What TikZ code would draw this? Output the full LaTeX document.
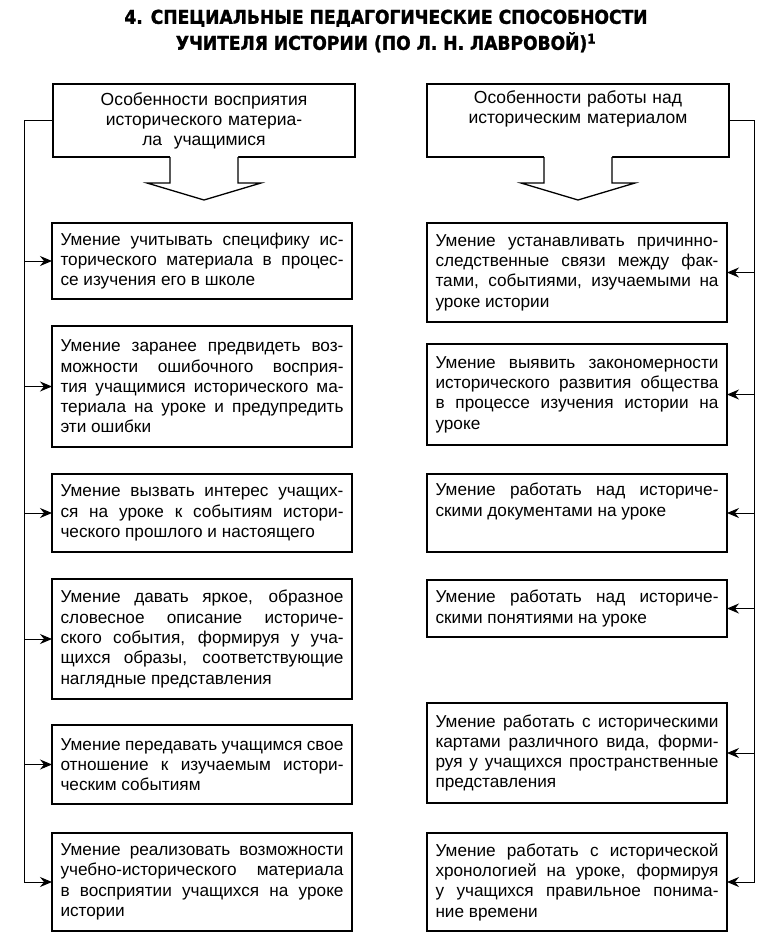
\documentclass[tikz,border=0pt]{standalone}
\usepackage{fontspec}
\setmainfont{Liberation Sans}
\newfontfamily\titlefont[FakeStretch=0.9, BoldFeatures={FakeBold=1.5}]{DejaVu Sans}
\usetikzlibrary{calc}
\usetikzlibrary{arrows.meta}

\tikzset{
  item/.style={draw, line width=1.1pt, outer sep=0pt, anchor=north west,
    text width=283pt, inner xsep=8.5pt, inner ysep=4pt, align=justify,
    font=\fontsize{17.2}{20.3}\selectfont},
  headbox/.style={draw, line width=1.3pt, outer sep=0pt, anchor=north west,
    text width=290pt, inner xsep=6pt, minimum height=73pt, align=center,
    font=\fontsize{17.5}{20}\selectfont},
  feed/.style={line width=1pt, -{Stealth[length=12pt,width=10pt,inset=4pt]}},
  bigarrow/.style={line width=1.3pt, line join=miter}
}

\begin{document}
\begin{tikzpicture}
            \fill[white] (0,0) rectangle (768pt,-946pt);
            \useasboundingbox (0,0) rectangle (768pt,-946pt);

            % title
            \node[font=\titlefont\bfseries\fontsize{19}{26}\selectfont, align=center] (title) at (386pt,-31pt)
                {4. СПЕЦИАЛЬНЫЕ ПЕДАГОГИЧЕСКИЕ СПОСОБНОСТИ\\УЧИТЕЛЯ ИСТОРИИ (ПО Л. Н. ЛАВРОВОЙ)\textsuperscript{1}};

            % two head boxes
            \node[headbox] (hl) at (53pt,-84pt) {Особенности восприятия\\исторического материа-\\ла~~учащимися};
            \node[headbox] (hr) at (427pt,-84pt) {Особенности работы над\\историческим материалом\\\strut};

            % block arrows under the head boxes
            \fill[white] ($(hl.south)+(-34pt,1pt)$) -- ++(0,-27pt) -- ++(-23pt,0) -- ($(hl.south)+(0,-43pt)$)
                -- ($(hl.south)+(57pt,-26pt)$) -- ++(-23pt,0) -- ++(0,27pt) -- cycle;
            \draw[bigarrow] ($(hl.south)+(-34pt,0)$) -- ++(0,-26pt) -- ++(-23pt,0) -- ($(hl.south)+(0,-43pt)$)
                -- ($(hl.south)+(57pt,-26pt)$) -- ++(-23pt,0) -- ++(0,26pt);
            \fill[white] ($(hr.south)+(-34pt,1pt)$) -- ++(0,-27pt) -- ++(-23pt,0) -- ($(hr.south)+(0,-43pt)$)
                -- ($(hr.south)+(57pt,-26pt)$) -- ++(-23pt,0) -- ++(0,27pt) -- cycle;
            \draw[bigarrow] ($(hr.south)+(-34pt,0)$) -- ++(0,-26pt) -- ++(-23pt,0) -- ($(hr.south)+(0,-43pt)$)
                -- ($(hr.south)+(57pt,-26pt)$) -- ++(-23pt,0) -- ++(0,26pt);

            % left column
            \node[item, minimum height=76pt] (l1) at (52pt,-223pt)
                {Умение учитывать специфику ис-\linebreak торического материала в процес-\linebreak се изучения его в школе};
            \node[item, minimum height=121pt] (l2) at (52pt,-326pt)
                {Умение заранее предвидеть воз-\linebreak можности ошибочного восприя-\linebreak тия учащимися исторического ма-\linebreak териала на уроке и предупредить\linebreak эти ошибки};
            \node[item, minimum height=78pt] (l3) at (52pt,-474pt)
                {Умение вызвать интерес учащих-\linebreak ся на уроке к событиям истори-\linebreak ческого прошлого и настоящего};
            \node[item, minimum height=120pt] (l4) at (52pt,-579pt)
                {Умение давать яркое, образное\linebreak словесное описание историче-\linebreak ского события, формируя у уча-\linebreak щихся образы, соответствующие\linebreak наглядные представления};
            \node[item, minimum height=79pt] (l5) at (52pt,-725pt)
                {Умение передавать учащимся свое\linebreak отношение к изучаемым истори-\linebreak ческим событиям};
            \node[item, minimum height=98pt] (l6) at (52pt,-833pt)
                {Умение реализовать возможности\linebreak учебно-исторического материала\linebreak в восприятии учащихся на уроке\linebreak истории};

            % right column
            \node[item, minimum height=99pt] (r1) at (427pt,-223pt)
                {Умение устанавливать причинно-\linebreak следственные связи между фак-\linebreak тами, событиями, изучаемыми на\linebreak уроке истории};
            \node[item, minimum height=101pt] (r2) at (427pt,-344pt)
                {Умение выявить закономерности\linebreak исторического развития общества\linebreak в процессе изучения истории на\linebreak уроке};
            \node[item, minimum height=78pt] (r3) at (427pt,-474pt)
                {Умение работать над историче-\linebreak скими документами на уроке\\\strut};
            \node[item, minimum height=57pt] (r4) at (427pt,-580pt)
                {Умение работать над историче-\linebreak скими понятиями на уроке};
            \node[item, minimum height=100pt] (r5) at (427pt,-703pt)
                {Умение работать с историческими\linebreak картами различного вида, форми-\linebreak руя у учащихся пространственные\linebreak представления};
            \node[item, minimum height=98pt] (r6) at (427pt,-833pt)
                {Умение работать с исторической\linebreak хронологией на уроке, формируя\linebreak у учащихся правильное понима-\linebreak ние времени};

            % buses
            \coordinate (lbus) at (24pt,0);
            \coordinate (rbus) at (754pt,0);

            \draw[feed] (hl.west) -| (lbus |- l6.west) -- (l6.west);
            \draw[feed] (lbus |- l1.west) -- (l1.west);
            \draw[feed] (lbus |- l2.west) -- (l2.west);
            \draw[feed] (lbus |- l3.west) -- (l3.west);
            \draw[feed] (lbus |- l4.west) -- (l4.west);
            \draw[feed] (lbus |- l5.west) -- (l5.west);

            \draw[feed] (hr.east) -| (rbus |- r6.east) -- (r6.east);
            \draw[feed] (rbus |- r1.east) -- (r1.east);
            \draw[feed] (rbus |- r2.east) -- (r2.east);
            \draw[feed] (rbus |- r3.east) -- (r3.east);
            \draw[feed] (rbus |- r4.east) -- (r4.east);
            \draw[feed] (rbus |- r5.east) -- (r5.east);
        \end{tikzpicture}
\end{document}
